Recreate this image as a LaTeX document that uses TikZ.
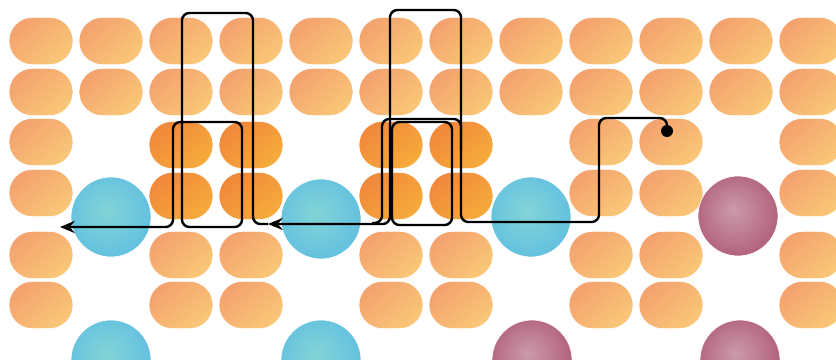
\documentclass[tikz,border=0pt]{standalone}
\usetikzlibrary{arrows.meta}
\definecolor{LipidLight}{HTML}{F4A26E}
\definecolor{LipidLightEnd}{HTML}{F9C777}
\definecolor{LipidDark}{HTML}{F1883B}
\definecolor{LipidDarkEnd}{HTML}{F6AB3B}
\definecolor{IonBlue}{HTML}{4EB3E6}
\definecolor{IonBlueCore}{HTML}{82D4D6}
\definecolor{IonRed}{HTML}{A0395A}
\definecolor{IonRedCore}{HTML}{CB9AAB}
\pgfdeclareradialshading{blueball}{\pgfpoint{-3bp}{4bp}}{color(0bp)=(IonBlueCore); color(46bp)=(IonBlue); color(50bp)=(IonBlue)}
\pgfdeclareradialshading{redball}{\pgfpoint{-3bp}{4bp}}{color(0bp)=(IonRedCore); color(46bp)=(IonRed); color(50bp)=(IonRed)}

\begin{document}
\begin{tikzpicture}[x=0.75pt,y=-0.75pt,
    lipid/.style={rectangle,rounded corners=17.5pt,minimum width=48pt,minimum height=35.5pt,inner sep=0pt,
      draw=white,line width=0.5pt,top color=LipidLight,bottom color=LipidLightEnd,shading angle=40},
    darklipid/.style={lipid,top color=LipidDark,bottom color=LipidDarkEnd,shading angle=40},
    ion/.style={circle,minimum size=60pt,inner sep=0pt,draw=white,line width=0.5pt},
    blueion/.style={ion,shading=blueball},
    redion/.style={ion,shading=redball},
    track/.style={draw=black,line width=1.8pt,rounded corners=5.5pt},
    tip/.style={-{Stealth[length=11pt,width=9pt]}}]
  \useasboundingbox (0,0) rectangle (836,360);

  \foreach \c in {1,...,12}{
    \node[lipid] (l-1-\c) at ({41+70*(\c-1)},41) {};
    \node[lipid] (l-2-\c) at ({41+70*(\c-1)},92) {};
  }
  \foreach \c in {1,9,10,12}{
    \node[lipid] (l-3-\c) at ({41+70*(\c-1)},142) {};
    \node[lipid] (l-4-\c) at ({41+70*(\c-1)},193) {};
  }
  \foreach \c in {3,4,6,7}{
    \node[darklipid] (l-3-\c) at ({41+70*(\c-1)},145) {};
    \node[darklipid] (l-4-\c) at ({41+70*(\c-1)},196) {};
  }
  \foreach \c in {1,3,4,6,7,9,10,12}{
    \node[lipid] (l-5-\c) at ({41+70*(\c-1)},255) {};
    \node[lipid] (l-6-\c) at ({41+70*(\c-1)},305) {};
  }

  \node[blueion] (ion-1) at (111,217) {};
  \node[blueion] (ion-2) at (321,219) {};
  \node[blueion] (ion-3) at (531,217) {};
  \node[redion]  (ion-4) at (738,216) {};
  \node[blueion] (ion-5) at (111,360) {};
  \node[blueion] (ion-6) at (321,360) {};
  \node[redion]  (ion-7) at (532,360) {};
  \node[redion]  (ion-8) at (740,360) {};

  \node[circle,fill=black,minimum size=9pt,inner sep=0pt] (start) at (667,131) {};
  \coordinate (joint) at (268,224);
  \coordinate (exit) at (60,227);

  \draw[track] (392,122) rectangle (452,225);
  \draw[track] (372,223) -- (382,223) -- (382,119) -- (461,119) -- (461,150);
  \draw[track,tip] (start.center) -- (667,118) -- (599,118) -- (599,222) -- (461,222)
    -- (461,10) -- (390,10) -- (390,224) -- (joint);
  \draw[track,tip] (joint) -- (253,224) -- (253,13) -- (182,13) -- (182,227) -- (242,227)
    -- (242,122) -- (173,122) -- (173,227) -- (exit);
\end{tikzpicture}
\end{document}
